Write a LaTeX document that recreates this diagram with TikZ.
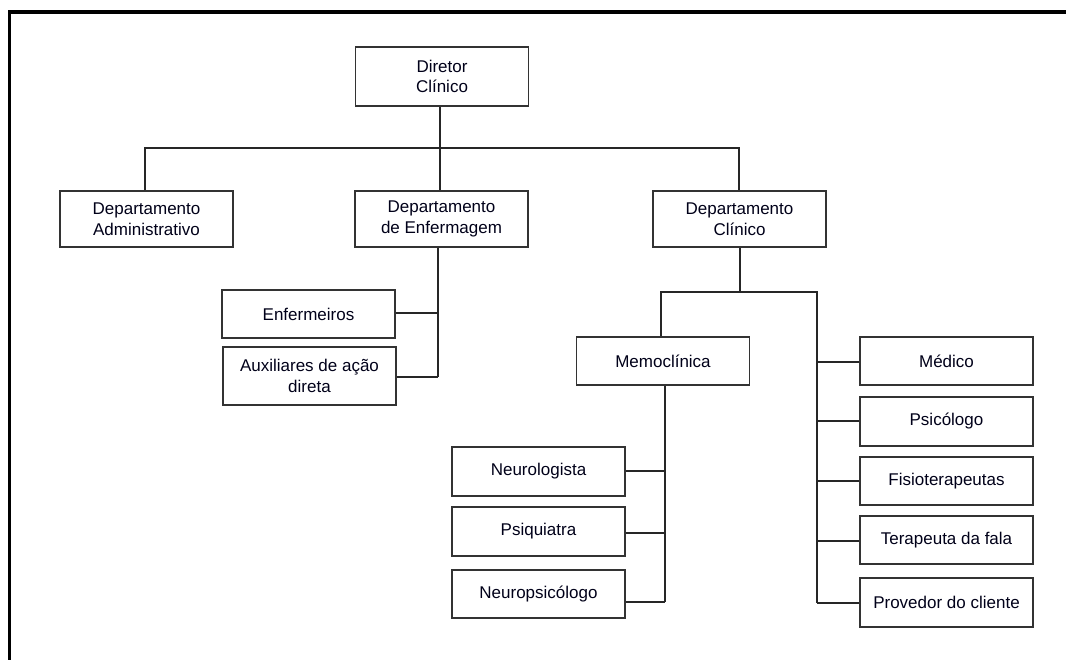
\documentclass[tikz,border=0pt]{standalone}
\usepackage{fontspec}
\setmainfont{Liberation Sans}
\begin{document}
\begin{tikzpicture}[x=1pt,y=-1pt,
  box/.style={draw=black!80, line width=1.3pt, fill=white, inner sep=0pt, align=center,
    minimum width=173pt, font=\fontsize{17}{20.5}\selectfont, text=black!90!blue},
  link/.style={draw=black!85, line width=1.3pt}]
\useasboundingbox (0,0) rectangle (1066,660);
\fill[white] (0,0) rectangle (1066,660);
% outer frame
\draw[line width=3.5pt] (9.5,662) -- (9.5,12) -- (1068,12);

% nodes
\node[box, minimum height=59pt] (dir) at (442,76.5) {Diretor\\Clínico};
\node[box, minimum height=56pt] (adm) at (146.5,219) {Departamento\\Administrativo};
\node[box, minimum height=56pt] (enf) at (441.5,219) {Departamento\\de Enfermagem};
\node[box, minimum height=56pt] (cli) at (739.5,219) {Departamento\\Clínico};

\node[box, minimum height=48pt] (enfer) at (308.5,314) {Enfermeiros};
\node[box, minimum height=58pt] (aux) at (309.5,376) {Auxiliares de ação\\direta};

\node[box, minimum height=48pt] (memo) at (663,361) {Memoclínica};
\node[box, minimum height=49pt] (neuro) at (538.5,471.5) {Neurologista};
\node[box, minimum height=49pt] (psiq) at (538.5,531.5) {Psiquiatra};
\node[box, minimum height=48pt] (neurop) at (538.5,594) {Neuropsicólogo};

\node[box, minimum height=48pt] (med) at (946.5,361) {Médico};
\node[box, minimum height=49pt] (psic) at (946.5,421.5) {Psicólogo};
\node[box, minimum height=48pt] (fisio) at (946.5,481) {Fisioterapeutas};
\node[box, minimum height=48pt] (terap) at (946.5,540) {Terapeuta da fala};
\node[box, minimum height=49pt] (prov) at (946.5,602.5) {Provedor do cliente};

% trunk coordinates
\coordinate (topbar) at (440,148);
\coordinate (enftrunk) at (438,377);
\coordinate (clibar) at (740,292);
\coordinate (memoL) at (661,292);
\coordinate (rightL) at (817,292);
\coordinate (memotrunk) at (665,602);
\coordinate (righttrunk) at (817,603);

% level 1
\draw[link] (dir.south -| topbar) -- (topbar);
\draw[link] (adm.north -| 145,0) |- (topbar) -| (cli.north -| 739,0);
\draw[link] (topbar) -- (enf.north -| topbar);

% enfermagem branch
\draw[link] (enf.south -| enftrunk) -- (enftrunk);
\draw[link] (enfer.east |- 0,313) -- (enftrunk |- 0,313);
\draw[link] (aux.east |- enftrunk) -- (enftrunk);

% clinico branch
\draw[link] (cli.south -| clibar) -- (clibar);
\draw[link] (memo.north -| memoL) -- (memoL) -- (rightL) -- (righttrunk);

% memoclinica branch
\draw[link] (memo.south -| memotrunk) -- (memotrunk);
\draw[link] (neuro.east |- 0,471) -- (memotrunk |- 0,471);
\draw[link] (psiq.east |- 0,533) -- (memotrunk |- 0,533);
\draw[link] (neurop.east |- memotrunk) -- (memotrunk);

% right column
\draw[link] (med.west |- 0,362) -- (righttrunk |- 0,362);
\draw[link] (psic.west |- 0,421) -- (righttrunk |- 0,421);
\draw[link] (fisio.west) -- (fisio.west -| righttrunk);
\draw[link] (terap.west |- 0,541) -- (righttrunk |- 0,541);
\draw[link] (prov.west |- righttrunk) -- (righttrunk);
\end{tikzpicture}
\end{document}
